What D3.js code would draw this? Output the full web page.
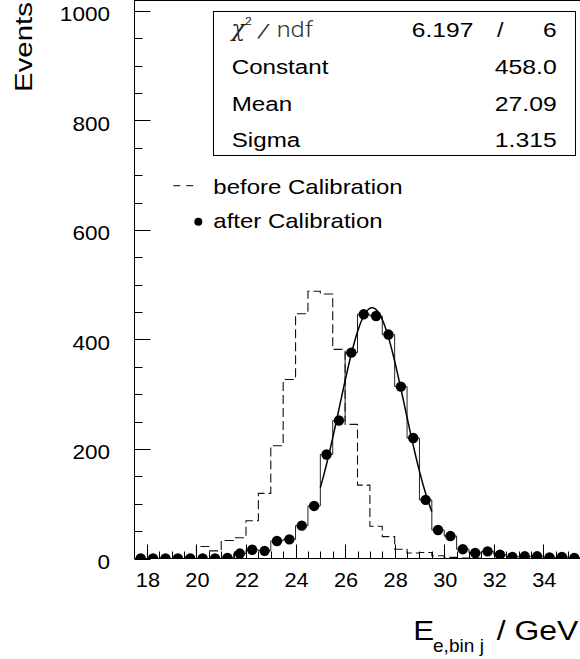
<!DOCTYPE html>
<html><head><meta charset="utf-8">
<script src="https://cdn.jsdelivr.net/npm/d3@7"></script>
<style>html,body{margin:0;padding:0;background:#fff;overflow:hidden}</style>
</head><body>
<svg id="c" width="580" height="659"></svg>
<script>
// ---- data ----
const binCenters = [17.75,18.25,18.75,19.25,19.75,20.25,20.75,21.25,21.75,22.25,22.75,23.25,
  23.75,24.25,24.75,25.25,25.75,26.25,26.75,27.25,27.75,28.25,28.75,29.25,29.75,30.25,30.75,
  31.25,31.75,32.25,32.75,33.25,33.75,34.25,34.75,35.25];
const beforeCalib = [0,0,1,1,3,22,14,33,38,69,119,206,327,447,488,483,382,245,134,59,40,17,10,11,5,2,1,1,0,0,0,0,0,0,0,0];
const afterCalib  = [0,0,0,0,0,0,0,1,9,16,14,32,35,60,96,190,252,376,446,443,409,314,220,107,52,41,17,10,13,7,3,4,4,2,3,1];
const xTickLabels = [18,20,22,24,26,28,30,32,34];
const yTickLabels = [0,200,400,600,800,1000];
const fitNames = ["Constant","Mean","Sigma"];
const fitValues = [458.0, 27.09, 1.315];
const fitValueLabels = ["458.0","27.09","1.315"];
const chi2ndf = ["6.197","6"];
const fitRange = [25.0, 29.5];
const legendLabels = ["before Calibration","after Calibration"];
const xDomain = [17.5, 35.5];
const yDomain = [0, 1000];

// ---- layout ----
const svg = d3.select("#c");
const FONT = "'Liberation Sans', Arial, Helvetica, sans-serif";
const x = d3.scaleLinear().domain(xDomain).range([134.5, 580.5]);
const y = d3.scaleLinear().domain(yDomain).range([558.5, 11]);
const binW = binCenters[1] - binCenters[0];

svg.append("defs").append("clipPath").attr("id","frame")
  .append("rect").attr("x",134.5).attr("y",0).attr("width",450).attr("height",558.5);

function txt(str, px, py, opts) {
  const o = Object.assign({size:20, sx:1, anchor:"start", family:FONT, weight:400, rot:0, style:"normal", fill:"#000"}, opts||{});
  return svg.append("text")
    .attr("transform", `translate(${px},${py}) rotate(${o.rot}) scale(${o.sx},1)`)
    .attr("text-anchor", o.anchor)
    .style("font-family", o.family).style("font-size", o.size + "px")
    .style("font-weight", o.weight).style("font-style", o.style)
    .attr("fill", o.fill).text(str);
}

// ---- histograms ----
function stepPoints(vals) {
  const pts = [[binCenters[0]-binW/2, 0]];
  vals.forEach((v,i) => {
    pts.push([binCenters[i]-binW/2, v]);
    pts.push([binCenters[i]+binW/2, v]);
  });
  pts.push([binCenters[vals.length-1]+binW/2, 0]);
  return pts;
}
const line = d3.line().x(d => x(d[0])).y(d => y(d[1]));
const plot = svg.append("g").attr("clip-path","url(#frame)");

plot.append("path").attr("d", line(stepPoints(beforeCalib)))
  .attr("fill","none").attr("stroke","#111").attr("stroke-width",1.1)
  .attr("stroke-dasharray","9,4");
plot.append("path").attr("d", line(stepPoints(afterCalib)))
  .attr("fill","none").attr("stroke","#222").attr("stroke-width",1);

// fit curve (gaussian with the fitted parameters shown in the box)
const fitX = d3.range(fitRange[0], fitRange[1] + 1e-9, (fitRange[1]-fitRange[0])/100);
const gaus = xx => fitValues[0] * Math.exp(-0.5 * Math.pow((xx - fitValues[1]) / fitValues[2], 2));
plot.append("path").attr("d", d3.line().x(d => x(d)).y(d => y(gaus(d)))(fitX))
  .attr("fill","none").attr("stroke","#000").attr("stroke-width",1.5);

plot.selectAll("circle.pt").data(afterCalib).enter().append("circle")
  .attr("class","pt").attr("cx",(d,i) => x(binCenters[i])).attr("cy", d => y(d))
  .attr("r",5.2).attr("fill","#000");

// ---- axes ----
const axisG = svg.append("g").attr("stroke","#000").attr("stroke-width",1);
axisG.append("line").attr("x1",134.5).attr("x2",134.5).attr("y1",0).attr("y2",y(0));
axisG.append("line").attr("x1",134.5).attr("x2",580).attr("y1",y(0)).attr("y2",y(0));
axisG.append("line").attr("x1",134.5).attr("x2",580).attr("y1",0.5).attr("y2",0.5);

// y ticks
const yMinor = d3.range(yDomain[0], yDomain[1] + 1, 50);
yMinor.forEach(v => {
  const major = yTickLabels.includes(v);
  axisG.append("line").attr("x1",134.5).attr("x2",134.5 + (major ? 16 : 8))
    .attr("y1", Math.round(y(v)) + 0.5).attr("y2", Math.round(y(v)) + 0.5);
});
yTickLabels.forEach(v => txt(String(v), 110, y(v) + 10, {size:20.5, sx:1.1, anchor:"end"}));

// x ticks
const xMinor = d3.range(18, 35.5 + 1e-9, 0.5);
xMinor.forEach(v => {
  const major = xTickLabels.includes(v);
  axisG.append("line").attr("x1", Math.round(x(v)) + 0.5).attr("x2", Math.round(x(v)) + 0.5)
    .attr("y1", y(0)).attr("y2", y(0) - (major ? 14 : 7));
});
xTickLabels.forEach(v => txt(String(v), x(v) + 1, 587, {size:20.5, sx:1.06, anchor:"middle"}));

// axis titles
txt("Events", 31.5, 2, {size:23, sx:1.28, anchor:"end", rot:-90});
txt("E", 413.3, 640, {size:28, sx:1.12});
txt("e,bin j", 433, 651.5, {size:18, sx:1.06});
txt("/ GeV", 578.3, 640, {size:28, sx:1.14, anchor:"end"});

// ---- stats box ----
svg.append("rect").attr("x",213.5).attr("y",11.5).attr("width",362).attr("height",144)
  .attr("fill","#fff").attr("stroke","#000").attr("stroke-width",1);
txt("\u03C7", 231.5, 36, {size:22, family:"'DejaVu Serif','Liberation Serif',serif", style:"italic", weight:300, fill:"#222"});
txt("2", 245, 25, {size:11, sx:1.1, fill:"#222"});
txt("/", 256.5, 37.3, {size:19, sx:1.9, fill:"#333", weight:300, family:"Roboto, 'Liberation Sans', sans-serif"});
txt("ndf", 276.7, 37.3, {size:22, sx:1.15, weight:300, fill:"#333", family:"Roboto, 'Liberation Sans', sans-serif"});
txt(chi2ndf[0], 473.3, 37.3, {size:19.5, sx:1.26, anchor:"end"});
txt("/", 503.5, 37.3, {size:19.5, sx:1.2, anchor:"end"});
txt(chi2ndf[1], 556.7, 37.3, {size:19.5, sx:1.26, anchor:"end"});
fitNames.forEach((n,i) => {
  const by = 74 + i * 36.5;
  txt(n, 231.7, by, {size:19.5, sx:1.24});
  txt(fitValueLabels[i], 556.7, by, {size:19.5, sx:1.27, anchor:"end"});
});

// ---- legend ----
svg.append("line").attr("x1",173.3).attr("x2",193.3).attr("y1",185.7).attr("y2",185.7)
  .attr("stroke","#000").attr("stroke-width",1).attr("stroke-dasharray","7,6");
txt(legendLabels[0], 213.3, 194.3, {size:20, sx:1.2});
svg.append("circle").attr("cx",198.3).attr("cy",221.7).attr("r",4).attr("fill","#000");
txt(legendLabels[1], 213.3, 228.3, {size:20, sx:1.2});
</script>
</body></html>
